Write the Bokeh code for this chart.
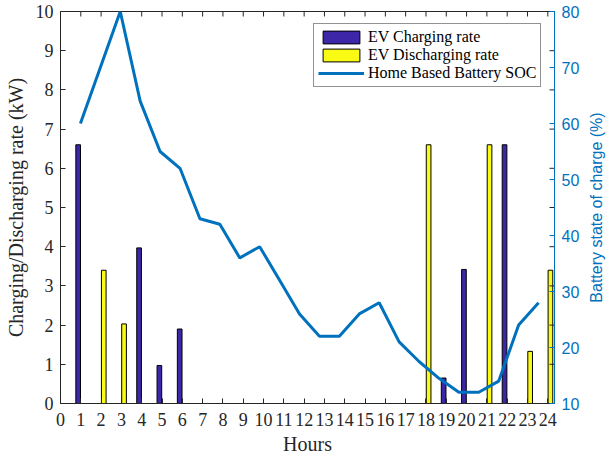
import math
from bokeh.plotting import figure
from bokeh.models import Range1d, LinearAxis, FixedTicker, Legend, LegendItem, ColumnDataSource, Label
from bokeh.transform import dodge
from bokeh.embed import file_html
from bokeh.resources import INLINE

hours = list(range(1, 25))
charging = [6.6, 0, 0, 3.97, 0.97, 1.9, 0, 0, 0, 0, 0, 0, 0, 0, 0, 0, 0, 0, 0.65, 3.42, 0, 6.6, 0, 0]
discharging = [0, 3.4, 2.03, 0, 0, 0, 0, 0, 0, 0, 0, 0, 0, 0, 0, 0, 0, 6.6, 0, 0, 6.6, 0, 1.33, 3.4]
soc = [60, 70, 80, 64, 55, 52, 43, 42, 36, 38, 32, 26, 22, 22, 26, 28, 21, 17.5, 14.5, 12, 12, 14, 24, 28]
x_ticks = list(range(0, 25))
y_ticks = list(range(0, 11))
soc_ticks = list(range(10, 81, 10))

SERIF = "Liberation Serif"
SANS = "Liberation Sans"
DARK = "#262626"
BLUE = "#0072BD"
X_END = 24.33
Y_END = 10

src = ColumnDataSource(dict(hour=hours, charging=charging, discharging=discharging, soc=soc))

p = figure(width=606, height=457, x_range=Range1d(0, X_END), y_range=Range1d(0, Y_END),
           output_backend="svg", toolbar_location=None,
           min_border_left=60, min_border_right=52, min_border_top=11, min_border_bottom=54)
p.extra_y_ranges = {"soc": Range1d(10, 80)}
p.extra_x_ranges = {"soc_x": Range1d(0, 24.8)}
p.xgrid.visible = False
p.ygrid.visible = False
p.outline_line_color = DARK
p.background_fill_color = "white"

r1 = p.vbar(x=dodge("hour", -0.13, range=p.x_range), top="charging", width=0.23,
            fill_color="#3E26A8", line_color="black", line_width=1, source=src)
r2 = p.vbar(x=dodge("hour", 0.13, range=p.x_range), top="discharging", width=0.23,
            fill_color="#F9FB15", line_color="black", line_width=1, source=src)

# mirrored tick marks on top and right edges (box style)
tick_len_y = 5 * Y_END / 392.0
tick_len_x = 5 * X_END / 494.0
p.segment(x0=x_ticks, y0=[Y_END] * len(x_ticks), x1=x_ticks, y1=[Y_END - tick_len_y] * len(x_ticks),
          line_color=DARK, line_width=1)
p.segment(x0=[X_END] * len(y_ticks), y0=y_ticks, x1=[X_END - tick_len_x] * len(y_ticks), y1=y_ticks,
          line_color=DARK, line_width=1)

r3 = p.line(x="hour", y="soc", x_range_name="soc_x", y_range_name="soc",
            line_color=BLUE, line_width=3, source=src)

# bottom axis
xa = p.xaxis[0]
xa.ticker = FixedTicker(ticks=x_ticks)
xa.axis_label = "Hours"
for ax in [xa, p.yaxis[0]]:
    ax.major_label_text_font = SERIF
    ax.major_label_text_font_size = "18px"
    ax.axis_label_text_font = SERIF
    ax.axis_label_text_font_size = "20px"
    ax.axis_label_text_font_style = "normal"
    ax.axis_label_text_color = DARK
    ax.major_label_text_color = DARK
    ax.axis_line_color = DARK
    ax.major_tick_line_color = DARK
    ax.major_tick_in = 5
    ax.major_tick_out = 0
    ax.minor_tick_line_color = None
xa.major_label_standoff = 9
xa.axis_label_standoff = 4

ya = p.yaxis[0]
ya.ticker = FixedTicker(ticks=y_ticks)
ya.axis_label = "Charging/Discharging rate (kW)"
ya.major_label_standoff = 7
ya.axis_label_standoff = 6

# right axis (SOC)
ra = LinearAxis(y_range_name="soc", ticker=FixedTicker(ticks=soc_ticks))
ra.major_label_text_font = SANS
ra.major_label_text_font_size = "16px"
ra.major_label_text_color = BLUE
ra.axis_line_color = BLUE
ra.major_tick_line_color = BLUE
ra.major_tick_in = 5
ra.major_tick_out = 0
ra.minor_tick_line_color = None
ra.major_label_standoff = 7
p.add_layout(ra, "right")

# right axis title, reading bottom-to-top like the reference
soc_title = Label(x=14, y=196, x_units="screen", y_units="screen",
                  text="Battery state of charge (%)", angle=math.pi / 2,
                  text_align="center", text_baseline="middle",
                  text_font=SANS, text_font_size="16px", text_color=BLUE)
p.add_layout(soc_title, "right")

legend = Legend(items=[
    LegendItem(label="EV Charging rate", renderers=[r1]),
    LegendItem(label="EV Discharging rate", renderers=[r2]),
    LegendItem(label="Home Based Battery SOC", renderers=[r3]),
], location=(253, 316))
legend.label_text_font = SERIF
legend.label_text_font_size = "16px"
legend.label_text_color = "black"
legend.glyph_width = 46
legend.glyph_height = 16
legend.label_height = 16
legend.label_standoff = 4
legend.spacing = 0
legend.padding = 4
legend.margin = 0
legend.border_line_color = DARK
legend.border_line_width = 1
legend.background_fill_alpha = 1
p.add_layout(legend)

open("out.html", "w").write(file_html(p, INLINE))
